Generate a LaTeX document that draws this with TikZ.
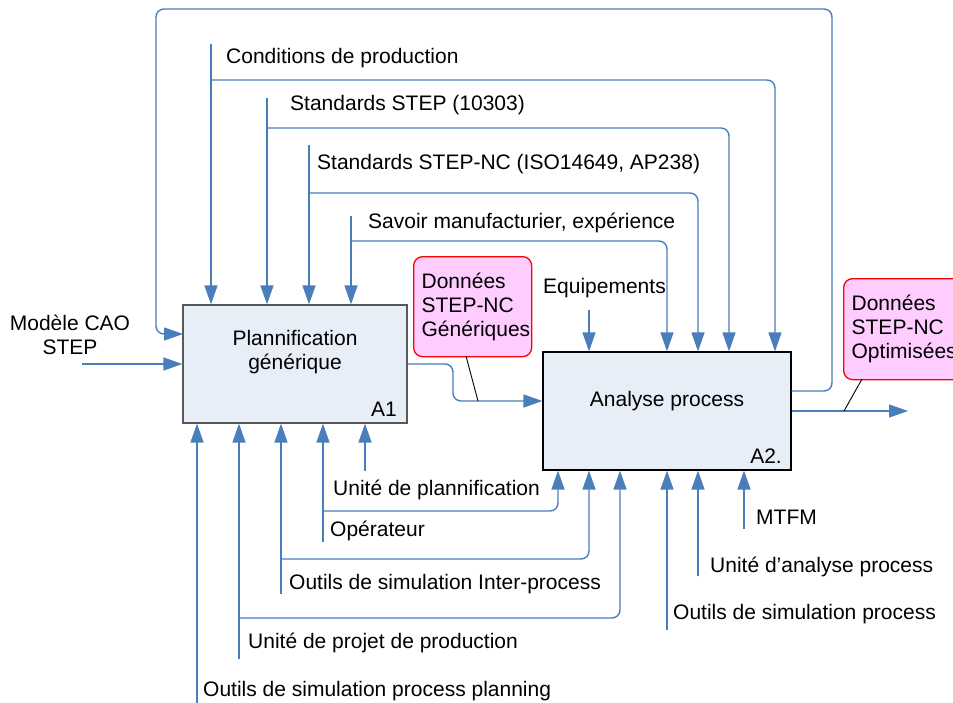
\documentclass[tikz,border=0pt]{standalone}
\usepackage{fontspec}
\setmainfont{Liberation Sans}
\usetikzlibrary{arrows.meta}
\definecolor{idefblue}{HTML}{4A7EBB}
\definecolor{actfill}{HTML}{E8EEF8}
\definecolor{notepink}{HTML}{FFCCFF}

\begin{document}
\begin{tikzpicture}[
  x=1pt, y=-1pt,
  act/.style={draw=black!65, fill=actfill, line width=1.2pt},
  arr/.style={-{Triangle[length=19pt, width=13pt]}, draw=idefblue,
              line width=1.4pt, rounded corners=8pt},
  lbl/.style={anchor=base west, inner sep=0pt,
              font=\fontsize{21}{24}\selectfont},
  note/.style={draw=red, fill=notepink, line width=1.3pt, rounded corners=9pt,
               anchor=north west, align=left, inner xsep=8pt,
               font=\fontsize{21}{24}\selectfont},
  ptr/.style={draw=black, line width=0.9pt},
]
\useasboundingbox (0,0) rectangle (953,702);
\clip (0,0) rectangle (953,702);

% ---- Activities ----
\node[act, minimum width=224pt, minimum height=118pt] (A1) at (295,364) {};
\node[font=\fontsize{21}{24}\selectfont, align=center, inner sep=0pt]
  (A1txt) at (295,352) {Plannification\\générique};
\node[lbl, anchor=base east] (A1num) at (397,416) {A1};

\node[act, draw=black, minimum width=248pt, minimum height=118pt] (A2) at (667,411) {};
\node[lbl, anchor=base] (A2txt) at (667,406) {Analyse process};
\node[lbl, anchor=base east] (A2num) at (782,463) {A2.};

% ---- Inputs / outputs ----
\coordinate (cao) at (82,364);
\node[font=\fontsize{21}{24}\selectfont, align=center, inner sep=0pt]
  (lcao) at (70,335) {Modèle CAO\\STEP};
\draw[arr] (cao) -- (A1.west);

\coordinate (m1) at (453,401);
\draw[arr] (A1.east) -| (m1) -- (m1 -| A2.west);

\coordinate (out2) at (908,411);
\draw[arr] (A2.east) -- (out2);

% feedback loop over the top
\coordinate (fbr) at (832,391);
\coordinate (fbt) at (156,9);
\coordinate (fbin) at (183,334);
\draw[arr] (A2.east |- fbr) -- (fbr) |- (fbt) |- (fbin);

% ---- Controls ----
\node[lbl] (lcond) at (226,63) {Conditions de production};
\node[lbl] (lstep) at (290,110) {Standards STEP (10303)};
\node[lbl] (lstepnc) at (317,169) {Standards STEP-NC (ISO14649, AP238)};
\node[lbl] (lsavoir) at (368,228) {Savoir manufacturier, expérience};
\node[lbl] (lequip) at (543,293) {Equipements};

\coordinate (c1) at (211,44);  \coordinate (k1) at (775,80);
\coordinate (c2) at (267,98);  \coordinate (k2) at (729,128);
\coordinate (c3) at (309,145); \coordinate (k3) at (698,193);
\coordinate (c4) at (351,216); \coordinate (k4) at (667,241);
\coordinate (c5) at (589,310);

\draw[arr] (c1) -- (c1 |- A1.north);
\draw[arr] (c1 |- k1) -- (k1) -- (k1 |- A2.north);
\draw[arr] (c2) -- (c2 |- A1.north);
\draw[arr] (c2 |- k2) -- (k2) -- (k2 |- A2.north);
\draw[arr] (c3) -- (c3 |- A1.north);
\draw[arr] (c3 |- k3) -- (k3) -- (k3 |- A2.north);
\draw[arr] (c4) -- (c4 |- A1.north);
\draw[arr] (c4 |- k4) -- (k4) -- (k4 |- A2.north);
\draw[arr] (c5) -- (c5 |- A2.north);

% ---- Mechanisms ----
\node[lbl] (lunite) at (333,495) {Unité de plannification};
\node[lbl] (loper) at (330,536) {Opérateur};
\node[lbl] (linter) at (289,589) {Outils de simulation Inter-process};
\node[lbl] (lprojet) at (248,648) {Unité de projet de production};
\node[lbl] (lplanning) at (203,696) {Outils de simulation process planning};
\node[lbl] (lmtfm) at (756,524) {MTFM};
\node[lbl] (lanalyse) at (710,572) {Unité d’analyse process};
\node[lbl] (lsimproc) at (673,619) {Outils de simulation process};

\coordinate (b1) at (197,705);
\coordinate (b2) at (239,659); \coordinate (j2) at (620,618);
\coordinate (b3) at (281,594); \coordinate (j3) at (589,559);
\coordinate (b4) at (323,542); \coordinate (j4) at (558,511);
\coordinate (b5) at (365,471);
\coordinate (d1) at (667,630);
\coordinate (d2) at (698,576);
\coordinate (d3) at (744,529);

\draw[arr] (b1) -- (b1 |- A1.south);
\draw[arr] (b2) -- (b2 |- A1.south);
\draw[arr] (b2 |- j2) -- (j2) -- (j2 |- A2.south);
\draw[arr] (b3) -- (b3 |- A1.south);
\draw[arr] (b3 |- j3) -- (j3) -- (j3 |- A2.south);
\draw[arr] (b4) -- (b4 |- A1.south);
\draw[arr] (b4 |- j4) -- (j4) -- (j4 |- A2.south);
\draw[arr] (b5) -- (b5 |- A1.south);
\draw[arr] (d1) -- (d1 |- A2.south);
\draw[arr] (d2) -- (d2 |- A2.south);
\draw[arr] (d3) -- (d3 |- A2.south);

% ---- Data notes ----
\node[note, text width=102pt, minimum height=100pt] (gen) at (413,256)
  {Données\\STEP-NC\\Génériques};
\coordinate (gs) at (466,356);
\coordinate (gt) at (478,401);
\draw[ptr] (gs) -- (gt);

\node[note, text width=114pt, minimum height=101pt] (opt) at (843,278)
  {Données\\STEP-NC\\Optimisées};
\coordinate (os) at (862,379);
\coordinate (ot) at (844,411);
\draw[ptr] (os) -- (ot);

\end{tikzpicture}
\end{document}
